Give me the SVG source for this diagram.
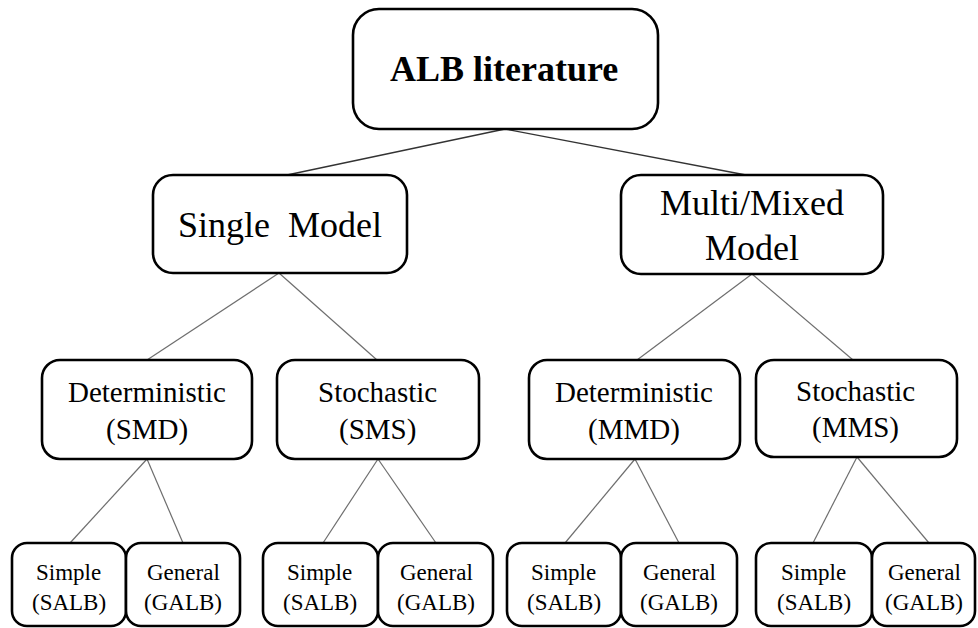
<svg xmlns="http://www.w3.org/2000/svg" width="978" height="628" viewBox="0 0 978 628">
<rect width="978" height="628" fill="#fff"/>
<g id="connectors" fill="none">
<g stroke="#333" stroke-width="1.3">
<line x1="505" y1="129" x2="287" y2="175"/>
<line x1="505" y1="129" x2="746" y2="175"/>
</g>
<g stroke="#6e6e6e" stroke-width="1.2">
<line x1="279" y1="273" x2="147" y2="360"/>
<line x1="279" y1="273" x2="377" y2="360"/>
<line x1="752" y1="274" x2="637" y2="360"/>
<line x1="752" y1="274" x2="853" y2="360"/>
<line x1="147" y1="459" x2="70" y2="543"/>
<line x1="147" y1="459" x2="183" y2="543"/>
<line x1="378" y1="459" x2="323" y2="543"/>
<line x1="378" y1="459" x2="436" y2="543"/>
<line x1="635" y1="459" x2="565" y2="543"/>
<line x1="635" y1="459" x2="679" y2="543"/>
<line x1="857" y1="457" x2="813" y2="543"/>
<line x1="857" y1="457" x2="929" y2="543"/>
</g>
</g>
<g id="nodes">
<g fill="#fff" stroke="#000" stroke-width="2.6">
<rect id="alb-box" x="353" y="9" width="305" height="120" rx="26"/>
<rect id="single-box" x="153" y="175" width="254" height="98" rx="20"/>
<rect id="multi-box" x="621" y="175" width="262" height="99" rx="20"/>
<rect id="smd-box" x="42" y="360" width="210" height="99" rx="18"/>
<rect id="sms-box" x="277" y="360" width="202" height="99" rx="18"/>
<rect id="mmd-box" x="529" y="360" width="211" height="99" rx="18"/>
<rect id="mms-box" x="756" y="360" width="201" height="97" rx="18"/>
<rect x="12" y="543" width="114" height="83" rx="15"/>
<rect x="126" y="543" width="114" height="83" rx="15"/>
<rect x="263" y="543" width="115" height="83" rx="15"/>
<rect x="378" y="543" width="115" height="83" rx="15"/>
<rect x="507" y="543" width="114" height="83" rx="15"/>
<rect x="621" y="543" width="116" height="83" rx="15"/>
<rect x="756" y="543" width="116" height="83" rx="15"/>
<rect x="872" y="543" width="103" height="83" rx="15"/>
</g>
<g id="labels">
<text x="390" y="81" font-family="Liberation Serif" font-size="36" font-weight="bold">ALB literature</text>
<text x="178" y="237" font-family="Liberation Serif" font-size="36">Single<tspan x="288">Model</tspan></text>
<text x="660" y="215" font-family="Liberation Serif" font-size="36">Multi/Mixed</text>
<text x="705" y="260" font-family="Liberation Serif" font-size="36">Model</text>
<text x="68" y="402" font-family="Liberation Serif" font-size="29">Deterministic</text>
<text x="106" y="439" font-family="Liberation Serif" font-size="29">(SMD)</text>
<text x="318" y="402" font-family="Liberation Serif" font-size="29">Stochastic</text>
<text x="339" y="439" font-family="Liberation Serif" font-size="29">(SMS)</text>
<text x="555" y="402" font-family="Liberation Serif" font-size="29">Deterministic</text>
<text x="588" y="439" font-family="Liberation Serif" font-size="29">(MMD)</text>
<text x="796" y="401" font-family="Liberation Serif" font-size="29">Stochastic</text>
<text x="812" y="437" font-family="Liberation Serif" font-size="29">(MMS)</text>
<text x="36" y="580" font-family="Liberation Serif" font-size="23">Simple</text>
<text x="32" y="610" font-family="Liberation Serif" font-size="23">(SALB)</text>
<text x="147" y="580" font-family="Liberation Serif" font-size="23">General</text>
<text x="144" y="610" font-family="Liberation Serif" font-size="23">(GALB)</text>
<text x="287" y="580" font-family="Liberation Serif" font-size="23">Simple</text>
<text x="283" y="610" font-family="Liberation Serif" font-size="23">(SALB)</text>
<text x="400" y="580" font-family="Liberation Serif" font-size="23">General</text>
<text x="397" y="610" font-family="Liberation Serif" font-size="23">(GALB)</text>
<text x="531" y="580" font-family="Liberation Serif" font-size="23">Simple</text>
<text x="527" y="610" font-family="Liberation Serif" font-size="23">(SALB)</text>
<text x="643" y="580" font-family="Liberation Serif" font-size="23">General</text>
<text x="640" y="610" font-family="Liberation Serif" font-size="23">(GALB)</text>
<text x="781" y="580" font-family="Liberation Serif" font-size="23">Simple</text>
<text x="777" y="610" font-family="Liberation Serif" font-size="23">(SALB)</text>
<text x="888" y="580" font-family="Liberation Serif" font-size="23">General</text>
<text x="885" y="610" font-family="Liberation Serif" font-size="23">(GALB)</text>
</g>
</g>
</svg>
